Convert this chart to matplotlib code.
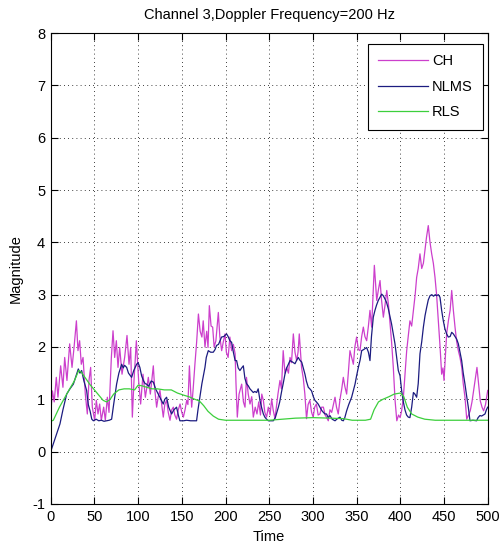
import numpy as np
import matplotlib
matplotlib.use("Agg")
import matplotlib.pyplot as plt

plt.rcParams['font.family'] = ['Liberation Sans', 'DejaVu Sans']
plt.rcParams['axes.unicode_minus'] = False

# channel (CH) samples
ch_t = [0, 2, 4, 6.4, 8.3, 11.4, 14, 16, 18.6, 21.7, 24.4, 26.7, 29.4, 31.2, 33.1, 35, 37,
        39.6, 41.9, 43.8, 45.7, 47.6, 50.3, 52.2, 54.1, 56, 57.9, 60.6, 62.5, 64.8, 66.7,
        69.4, 71.3, 73.2, 75.1, 77, 78.9, 81.6, 84.6, 87.3, 89.6, 91.5, 93.4, 95.3, 98,
        100.6, 102.9, 105.6, 108.3, 111.7, 114, 117.4, 119, 121.2, 123, 125, 127, 128.8,
        130.5, 132.6, 134.5, 136.5, 138.5, 140.3, 142, 144, 146, 148, 150, 151.8, 153.7,
        155.6, 157, 158.7, 160, 161.3, 163, 165, 167, 169, 171, 173, 174.5, 176.5, 178.5,
        180, 181.5, 183.5, 185.3, 187, 189, 191.8, 193.5, 195.6, 197.5, 199.5, 201, 203,
        205, 207, 209, 211, 212, 213.5, 215.5, 218.5, 220.5, 222.3, 224, 226, 228, 230,
        231.8, 234, 236, 238, 240, 241.5, 243.3, 245, 247, 249, 251, 252.8, 254.5, 256.6,
        258.5, 260, 262.3, 264, 266, 268, 270, 272, 273.8, 275.5, 277.6, 279.5, 281.4, 283,
        284.4, 285.8, 287, 289, 290.8, 292.7, 294.5, 296.5, 298.5, 300.3, 302, 304, 306,
        308, 310, 312, 314, 315.5, 317.6, 319.5, 321.5, 323.5, 325.3, 327, 329, 331, 333,
        334.8, 336.5, 338.6, 340.5, 342.4, 344.3, 346.3, 348, 350, 352, 353.9, 355.8,
        357.7, 359.5, 361.5, 363.5, 365.3, 367.2, 368.8, 370.3, 371.8, 373, 375, 376.8,
        378.5, 380.6, 382.5, 384.5, 386.5, 388.3, 390, 392, 394, 396, 398, 399.8, 401.5,
        403.5, 405.5, 407.3, 409, 411, 413, 415, 417, 418.7, 420.5, 422.5, 424.5, 426.4,
        428.5, 430, 432, 434, 435.9, 437.8, 439.7, 441.5, 443.5, 445.5, 447.3, 448.8, 450,
        451.5, 453, 455, 457, 458.8, 460.7, 462.6, 464.5, 466.4, 468.3, 470.3, 472, 474,
        476, 478, 480, 482, 483.9, 485.8, 487.7, 489.6, 491.5, 493.5, 495.3, 497.5, 500]
ch_v = [0.72, 1.16, 0.95, 1.42, 1.04, 1.64, 1.23, 1.8, 1.36, 2.06, 1.61, 1.99, 2.5, 1.93,
        2.12, 1.67, 1.8, 1.1, 0.72, 1.36, 1.61, 0.85, 0.6, 0.98, 0.72, 0.91, 0.6, 0.85, 0.6,
        1.04, 0.75, 1.8, 2.31, 1.8, 2.12, 1.61, 1.99, 1.48, 1.8, 2.22, 1.67, 1.99, 0.66,
        1.36, 2.12, 1.36, 0.91, 1.48, 1.04, 1.42, 1.1, 1.64, 1.2, 0.85, 1.05, 1.17, 0.9,
        0.66, 0.9, 0.98, 0.75, 0.6, 0.8, 0.85, 0.7, 0.62, 0.8, 0.91, 0.75, 0.66, 0.8, 0.98,
        0.9, 1.64, 1.2, 0.85, 1.2, 1.67, 2.1, 2.63, 2.3, 2.19, 2.5, 2.0, 2.3, 1.99, 2.79,
        2.4, 2.38, 2.0, 2.12, 2.66, 2.2, 1.93, 2.1, 2.25, 1.9, 1.8, 2.19, 1.93, 2.05, 1.87,
        1.3, 0.66, 1.1, 1.29, 0.95, 0.85, 1.42, 1.1, 0.91, 1.05, 0.66, 0.85, 0.72, 0.95,
        0.7, 1.1, 0.98, 0.75, 0.66, 0.85, 0.7, 1.01, 0.8, 0.63, 0.9, 1.1, 1.36, 1.2, 1.93,
        1.5, 1.61, 1.5, 1.8, 1.7, 2.25, 1.9, 1.74, 1.9, 2.25, 1.9, 1.61, 1.4, 1.1, 0.63,
        0.9, 0.98, 0.75, 0.66, 0.85, 0.91, 0.7, 0.72, 0.85, 0.85, 0.7, 0.66, 0.59, 0.8,
        0.75, 0.9, 1.04, 0.85, 0.72, 1.0, 1.2, 1.42, 1.25, 1.1, 1.5, 1.93, 1.8, 1.67, 2.0,
        2.19, 1.95, 1.93, 2.2, 2.38, 2.2, 2.12, 2.4, 2.7, 2.38, 3.0, 3.56, 3.2, 2.89, 3.1,
        3.27, 2.9, 2.57, 2.8, 3.08, 2.8, 2.44, 2.1, 1.61, 0.98, 0.59, 0.7, 0.65, 0.78,
        1.04, 1.5, 1.93, 2.2, 2.5, 2.4, 2.7, 3.0, 3.33, 3.5, 3.78, 3.5, 3.6, 3.9, 4.1, 4.32,
        4.0, 3.78, 3.6, 3.33, 3.0, 2.5, 2.0, 1.48, 1.6, 1.36, 1.8, 2.25, 2.5, 2.7, 3.08,
        2.7, 2.38, 2.1, 1.93, 1.8, 1.61, 1.3, 1.04, 0.62, 0.7, 0.78, 0.95, 1.17, 1.4, 1.61,
        1.3, 0.97, 0.85, 0.78, 0.9, 1.17]

# NLMS estimate
nlms_t = [0, 2, 6, 10.6, 14, 18.3, 22, 25.9, 29, 31.6, 33.5, 35.4, 38, 41.1, 43, 45, 47,
          48.8, 52, 55, 58, 61, 64, 67, 69.7, 72, 75.4, 78, 81.2, 83, 84.5, 86.9, 89, 92.6,
          95, 98.3, 100, 102, 104, 106, 108, 109.7, 112, 115, 117.4, 120, 123, 126, 128.8,
          130.5, 132.6, 135, 138.3, 141, 144, 146, 147.8, 152, 155.5, 160, 166.9, 168.5,
          170.7, 173, 176.5, 178, 180.3, 183, 186, 188, 189.8, 192, 195.5, 198, 201.2, 203,
          205, 207, 209, 211, 212.7, 214.5, 216.5, 218.5, 220.4, 222.2, 224, 226, 228,
          231.8, 233.5, 235.6, 237.4, 239.4, 241.2, 243.3, 245, 247, 249, 254.7, 257, 260.5,
          262, 264.3, 266, 268, 270, 273.8, 276, 279.5, 281.5, 283.3, 285, 287.2, 289,
          290.9, 292.5, 294.7, 296.5, 298.5, 300.5, 302.3, 304, 306, 308, 310, 312, 313.8,
          315.6, 317.5, 319.5, 322, 325.3, 328, 331, 333, 334.8, 336.5, 338.6, 341, 344.3,
          346, 348.2, 350, 352, 354, 355.8, 358, 361.5, 363.5, 365.3, 367, 369.1, 371,
          372.8, 374.8, 376.7, 378.7, 380.5, 382.4, 384.3, 386.3, 388, 390, 392, 393.9,
          395.8, 397.7, 399.7, 401.5, 403.5, 405.3, 407.2, 409.1, 411, 413, 415, 416.7,
          418.7, 420.5, 422.5, 424.5, 426.4, 428.3, 430.2, 432, 434, 436, 438, 440, 441.6,
          443.5, 445.4, 447.3, 449.2, 451, 453, 454.9, 457, 458.8, 460.7, 462.6, 464.5,
          466.4, 468.3, 470.2, 472, 474, 476, 477.8, 479.7, 483, 487.3, 489, 491.1, 493,
          495, 496.9, 498.5, 500]
nlms_v = [0.0, 0.1, 0.3, 0.53, 0.8, 1.1, 1.2, 1.29, 1.45, 1.58, 1.5, 1.55, 1.35, 1.17,
          0.9, 0.78, 0.62, 0.59, 0.62, 0.59, 0.6, 0.58, 0.59, 0.6, 0.62, 0.9, 1.29, 1.5,
          1.67, 1.6, 1.65, 1.61, 1.5, 1.42, 1.55, 1.67, 1.7, 1.61, 1.45, 1.36, 1.3, 1.29,
          1.25, 1.35, 1.33, 1.2, 1.1, 1.0, 0.91, 1.0, 1.04, 0.85, 0.72, 0.8, 0.85, 0.7, 0.59,
          0.59, 0.6, 0.59, 0.59, 0.8, 1.04, 1.3, 1.61, 1.8, 1.93, 1.9, 1.9, 1.95, 2.03, 2.05,
          2.19, 2.2, 2.25, 2.2, 2.12, 2.09, 1.9, 1.74, 1.74, 1.6, 1.55, 1.6, 1.64, 1.4, 1.3,
          1.26, 1.2, 1.13, 1.15, 1.13, 1.2, 0.98, 0.85, 0.72, 0.66, 0.62, 0.59, 0.59, 0.65,
          0.85, 0.95, 1.16, 1.3, 1.48, 1.6, 1.74, 1.72, 1.68, 1.75, 1.8, 1.75, 1.71, 1.6,
          1.48, 1.35, 1.23, 1.2, 1.16, 1.05, 0.98, 0.95, 0.91, 0.85, 0.79, 0.75, 0.72, 0.72,
          0.65, 0.69, 0.62, 0.59, 0.63, 0.66, 0.6, 0.59, 0.65, 0.78, 0.9, 1.04, 1.15, 1.29,
          1.45, 1.61, 1.75, 1.93, 1.95, 1.99, 1.9, 1.74, 2.2, 2.57, 2.7, 2.8, 2.89, 2.95,
          3.01, 2.98, 2.92, 2.85, 2.73, 2.6, 2.44, 2.25, 2.06, 1.8, 1.55, 1.45, 1.17, 0.95,
          0.8, 0.7, 0.66, 0.65, 0.85, 1.13, 1.1, 1.04, 1.3, 1.87, 2.1, 2.38, 2.6, 2.76, 2.9,
          2.98, 3.0, 2.97, 3.0, 2.98, 3.0, 2.95, 2.7, 2.5, 2.35, 2.25, 2.19, 2.2, 2.28, 2.25,
          2.2, 2.15, 2.06, 1.9, 1.74, 1.5, 1.29, 1.05, 0.85, 0.59, 0.6, 0.59, 0.65, 0.69,
          0.68, 0.7, 0.72, 0.8, 0.85]

# RLS estimate
rls_t = [0, 3, 10, 20, 27, 32, 35, 40, 45, 50, 55, 60, 64, 68, 72, 78, 84, 90, 96, 100,
         104, 110, 116, 122, 130, 138, 145, 152, 158, 165, 170, 175, 180, 186, 192, 200,
         230, 250, 265, 280, 300, 320, 335, 345, 360, 366, 370, 375, 380, 387, 393, 400,
         404, 408, 413, 420, 428, 440, 500]
rls_v = [0.58, 0.6, 0.85, 1.15, 1.35, 1.55, 1.52, 1.4, 1.28, 1.18, 1.08, 0.98, 0.95, 1.0,
         1.1, 1.18, 1.2, 1.2, 1.18, 1.27, 1.26, 1.23, 1.2, 1.2, 1.18, 1.18, 1.12, 1.08, 1.05,
         1.0, 0.97, 0.88, 0.77, 0.68, 0.62, 0.6, 0.6, 0.6, 0.62, 0.64, 0.65, 0.64, 0.63,
         0.6, 0.6, 0.62, 0.8, 0.95, 1.0, 1.05, 1.1, 1.12, 1.05, 0.85, 0.72, 0.66, 0.62, 0.6,
         0.6]

x_ticks = np.arange(0, 501, 50)
y_ticks = np.arange(-1, 9, 1)

fig = plt.figure(figsize=(5.03, 5.54), dpi=100)
ax = fig.add_axes([0.1008, 0.0903, 0.8688, 0.8501])

ax.plot(ch_t, ch_v, color='#cc3fcc', lw=0.9, label='CH')
ax.plot(nlms_t, nlms_v, color='#1c1c80', lw=0.9, label='NLMS')
ax.plot(rls_t, rls_v, color='#3ccf3c', lw=0.9, label='RLS')

ax.set_xlim(0, 500)
ax.set_ylim(-1, 8)
ax.set_xticks(x_ticks)
ax.set_yticks(y_ticks)
ax.tick_params(direction='in', top=True, right=True, length=5, labelsize=10.5, width=0.8,
               pad=4)
ax.grid(True, linestyle=(0, (1, 4)), color='black', lw=0.6)
for s in ax.spines.values():
    s.set_linewidth(0.8)

ax.set_title('Channel 3,Doppler Frequency=200 Hz', fontsize=10.5, pad=10)
ax.set_xlabel('Time', fontsize=10.5, labelpad=5)
ax.set_ylabel('Magnitude', fontsize=10.5, labelpad=7)

leg = ax.legend(loc='upper right', bbox_to_anchor=(0.989, 0.977), borderaxespad=0,
                fontsize=10.5, handlelength=3.4, handletextpad=0.3, fancybox=False,
                framealpha=1, edgecolor='black', borderpad=0.7, labelspacing=0.8)
leg.get_frame().set_linewidth(0.8)

fig.savefig('out.png', dpi=100)
